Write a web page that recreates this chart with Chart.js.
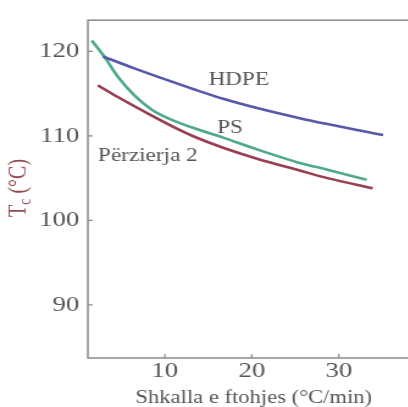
<!DOCTYPE html>
<html>
<head>
<meta charset="utf-8">
<script src="https://cdn.jsdelivr.net/npm/chart.js@4/dist/chart.umd.min.js"></script>
<style>
  html, body { margin: 0; padding: 0; background: #fff; overflow: hidden; width: 408px; height: 407px; }
  #chart { display: block; transform: scaleX(1.22); transform-origin: 0 0; }
</style>
</head>
<body>
<canvas id="chart" width="352" height="407"></canvas>
<script>
// Crystallisation temperature vs cooling rate
const hdpeRate = [2.9, 6.5, 10.3, 13.4, 16.7, 20.6, 25.5, 28.7, 32.6, 35.1];
const hdpeTc   = [119.4, 118.0, 116.6, 115.5, 114.4, 113.3, 112.1, 111.4, 110.6, 110.1];

const psRate = [1.6, 3.1, 4.6, 6.5, 8.5, 10.8, 13.4, 16.7, 20.6, 25.5, 28.7, 33.2];
const psTc   = [121.3, 119.3, 117.0, 114.8, 113.1, 111.9, 110.9, 109.8, 108.4, 106.8, 106.0, 104.8];

const blendRate = [2.3, 4.6, 8.5, 11.5, 13.4, 16.7, 20.6, 25.5, 28.7, 33.9];
const blendTc   = [116.0, 114.6, 112.4, 110.8, 109.9, 108.6, 107.3, 105.9, 105.0, 103.8];

const xTicks = [10, 20, 30];
const yTicks = [90, 100, 110, 120];

const seriesNames = ['HDPE', 'PS', 'Përzierja 2'];
const xTitle = 'Shkalla e ftohjes (°C/min)';

const SERIF = '"Liberation Serif", "Times New Roman", Times, serif';
const TEXT = '#555';
const AXIS = '#8a8a8a';

function pts(xs, ys) { return xs.map((x, i) => ({ x, y: ys[i] })); }

// curve labels placed in data coordinates
const curveLabels = [
  { text: seriesNames[0], x: 18.5, y: 116.6 },
  { text: seriesNames[1], x: 17.5, y: 110.9 },
  { text: seriesNames[2], x: 8.05, y: 107.6 }
];

const decor = {
  id: 'decor',
  afterDraw(chart) {
    const { ctx, chartArea: a, scales: { x, y } } = chart;
    ctx.save();
    // frame
    ctx.strokeStyle = AXIS;
    ctx.lineWidth = 1.5;
    ctx.strokeRect(a.left, a.top, a.right - a.left, a.bottom - a.top);
    // inward tick marks
    ctx.lineWidth = 1.2;
    ctx.beginPath();
    yTicks.forEach(v => {
      const p = y.getPixelForValue(v);
      ctx.moveTo(a.left, p); ctx.lineTo(a.left + 4, p);
    });
    xTicks.forEach(v => {
      const p = x.getPixelForValue(v);
      ctx.moveTo(p, a.bottom); ctx.lineTo(p, a.bottom - 4);
    });
    ctx.stroke();
    // curve labels
    ctx.fillStyle = TEXT;
    ctx.font = '19px ' + SERIF;
    ctx.textAlign = 'center';
    ctx.textBaseline = 'middle';
    curveLabels.forEach(l => {
      ctx.fillText(l.text, x.getPixelForValue(l.x), y.getPixelForValue(l.y));
    });
    // y axis title with subscript
    ctx.translate(14, 188);
    ctx.rotate(-Math.PI / 2);
    ctx.fillStyle = '#8e4b50';
    ctx.textBaseline = 'alphabetic';
    ctx.textAlign = 'left';
    const big = '20px ' + SERIF, small = '14px ' + SERIF;
    ctx.font = big;
    const wT = ctx.measureText('T').width;
    ctx.font = small;
    const wc = ctx.measureText('c').width;
    ctx.font = big;
    const wRest = ctx.measureText(' (°C)').width;
    let cx = -(wT + wc + wRest) / 2;
    const base = 7;
    ctx.fillText('T', cx, base); cx += wT;
    ctx.font = small;
    ctx.fillText('c', cx, base + 4); cx += wc;
    ctx.font = big;
    ctx.fillText(' (°C)', cx, base);
    ctx.restore();
  }
};

function draw() {
  new Chart(document.getElementById('chart'), {
    type: 'line',
    data: {
      datasets: [
        { label: seriesNames[0], data: pts(hdpeRate, hdpeTc), borderColor: '#5658a8' },
        { label: seriesNames[1], data: pts(psRate, psTc), borderColor: '#4fa98c' },
        { label: seriesNames[2], data: pts(blendRate, blendTc), borderColor: '#983d52' }
      ].map(d => Object.assign(d, {
        borderWidth: 2.6,
        pointRadius: 0,
        fill: false,
        cubicInterpolationMode: 'monotone'
      }))
    },
    options: {
      responsive: false,
      devicePixelRatio: 1,
      animation: false,
      layout: { padding: { top: 14, right: 8, left: 0, bottom: 0 } },
      plugins: { legend: { display: false }, tooltip: { enabled: false } },
      scales: {
        x: {
          type: 'linear',
          min: 1.15,
          max: 39.3,
          grid: { display: false, drawTicks: false },
          border: { display: false },
          afterBuildTicks(s) { s.ticks = xTicks.map(v => ({ value: v })); },
          afterFit(s) { s.height = 49; },
          ticks: {
            color: TEXT,
            padding: 0,
            maxRotation: 0,
            font: { family: SERIF, size: 22, lineHeight: 1.2 }
          },
          title: {
            display: true,
            text: xTitle,
            color: TEXT,
            padding: { top: 0, bottom: 0 },
            font: { family: SERIF, size: 18.5, lineHeight: 1.0 }
          }
        },
        y: {
          min: 83.7,
          max: 123.7,
          grid: { display: false, drawTicks: false },
          border: { display: false },
          afterBuildTicks(s) { s.ticks = yTicks.map(v => ({ value: v })); },
          afterFit(s) { s.width = 72; },
          ticks: {
            color: TEXT,
            padding: 7,
            font: { family: SERIF, size: 22, lineHeight: 1.2 }
          }
        }
      }
    },
    plugins: [decor]
  });
}

Promise.all([
  document.fonts.load('20px "Liberation Serif"'),
  document.fonts.load('20px "Times New Roman"')
]).catch(() => {}).then(draw);
</script>
</body>
</html>
